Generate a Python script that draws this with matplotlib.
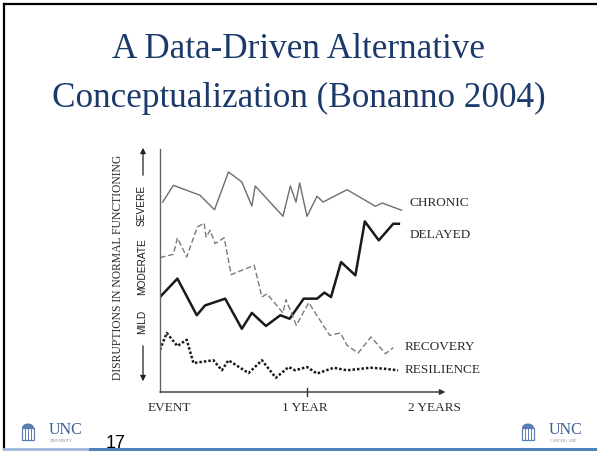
"""
Bonanno (2004) trajectories of disruption after a loss event, redrawn as a slide
"""
import matplotlib
matplotlib.use('Agg')
from matplotlib import pyplot as plt
from matplotlib.patches import Rectangle, Wedge
from matplotlib.lines import Line2D

W, H = 597, 453

# months after the event, and level of disruption (0 = none, 100 = severe)
chronic_x = [0.22, 1.09, 3.27, 4.45, 5.59, 6.68, 7.50, 7.77, 10.04, 10.64, 11.10,
             11.40, 12.00, 12.82, 13.31, 15.27, 17.59, 18.14, 19.72]
chronic_y = [81.4, 88.6, 84.3, 78.1, 94.3, 90.0, 79.7, 88.3, 75.3, 88.3, 81.4,
             89.6, 75.3, 83.9, 81.4, 86.7, 79.6, 81.0, 77.9]

delayed_x = [0.0, 1.42, 3.00, 3.68, 5.32, 6.68, 7.50, 8.65, 9.82, 10.58, 11.73,
             12.82, 13.42, 13.96, 14.78, 15.95, 16.72, 17.86, 19.04, 19.50]
delayed_y = [40.7, 48.6, 32.9, 37.1, 40.0, 27.1, 33.9, 28.3, 32.9, 31.4, 40.0,
             40.0, 42.6, 40.7, 55.7, 50.0, 73.1, 65.0, 72.1, 72.1]

recovery_x = [0.0, 1.09, 1.42, 2.18, 3.05, 3.60, 3.76, 4.09, 4.50, 5.24, 5.81,
              7.69, 8.32, 8.73, 10.04, 10.28, 11.13, 12.14, 13.85, 14.73, 15.27,
              16.17, 17.23, 18.41, 19.04]
recovery_y = [57.6, 59.0, 66.0, 57.9, 70.7, 72.4, 66.4, 69.3, 63.6, 66.1, 50.3,
              54.3, 40.7, 42.1, 33.9, 39.6, 28.6, 38.3, 24.3, 25.3, 20.0,
              16.7, 23.6, 16.4, 19.0]

resilience_x = [0.0, 0.55, 1.42, 2.18, 2.73, 4.36, 5.05, 5.59, 7.23, 8.32, 9.46,
                10.50, 11.04, 12.00, 12.82, 14.18, 15.27, 17.18, 18.27, 19.44]
resilience_y = [18.1, 25.3, 19.7, 22.4, 12.4, 13.6, 9.3, 13.6, 8.1, 13.6, 6.1,
                10.7, 9.3, 10.7, 7.9, 10.4, 9.3, 10.4, 10.0, 9.3]

curve_labels = ['CHRONIC', 'DELAYED', 'RECOVERY', 'RESILIENCE']
time_labels = ['EVENT', '1 YEAR', '2 YEARS']
level_labels = ['MILD', 'MODERATE', 'SEVERE']

TITLE_BLUE = '#1b3a6b'
SERIF = ['Liberation Serif', 'DejaVu Serif']
SANS = ['Liberation Sans', 'DejaVu Sans']


def fx(px):
    return px / W


def fy(py):
    return 1 - py / H


fig = plt.figure(figsize=(W / 100, H / 100), dpi=100)

# slide frame and footer line
fig.add_artist(Line2D([fx(4), fx(4)], [fy(4), fy(449)], color='black', lw=1.6))
fig.add_artist(Line2D([fx(4), fx(597)], [fy(4), fy(4)], color='black', lw=1.6))
fig.add_artist(Line2D([fx(4), fx(90)], [fy(449), fy(449)], color='#9db7dc', lw=2))
fig.add_artist(Line2D([fx(90), fx(597)], [fy(449), fy(449)], color='#4f81bd', lw=2.2))

fig.text(0.5, fy(50), 'A Data-Driven Alternative', ha='center', va='center',
         fontsize=25.3, color=TITLE_BLUE, family=SERIF)
fig.text(0.5, fy(98), 'Conceptualization (Bonanno 2004)', ha='center', va='center',
         fontsize=25.3, color=TITLE_BLUE, family=SERIF)

# chart area: x in months (12.25 px each), y in disruption units (2.333 px each)
ax = fig.add_axes([fx(160), fy(392), 24 * 12.25 / W, 105 * (7 / 3) / H])
ax.set_xlim(0, 24)
ax.set_ylim(0, 105)
ax.axis('off')

ax.plot(chronic_x, chronic_y, color='#6e6e6e', lw=1.0)
ax.plot(delayed_x, delayed_y, color='#1a1a1a', lw=1.8)
ax.plot(recovery_x, recovery_y, color='#7a7a7a', lw=1.0, ls=(0, (4, 2)))
ax.plot(resilience_x, resilience_y, color='#1a1a1a', lw=1.8, ls=(0, (1, 0.8)))

label_pos = [(20.4, 81.0), (20.4, 67.3), (20.0, 19.3), (20.0, 9.4)]
for name, (lx, ly) in zip(curve_labels, label_pos):
    ax.text(lx, ly, name, ha='left', va='center', fontsize=9.5,
            color='#2a2a2a', family=SERIF)

# axes
ax.plot([0, 0], [0, 104], color='#666666', lw=1.0, clip_on=False)
ax.annotate('', xy=(23.3, 0), xytext=(0, 0),
            arrowprops=dict(arrowstyle='-|>', color='#333333', lw=1.0,
                            mutation_scale=8, shrinkA=0, shrinkB=0),
            annotation_clip=False)
ax.plot([12, 12], [-1.7, 1.7], color='#333333', lw=1.0, clip_on=False)

for name, px in zip(time_labels, [169, 305, 434]):
    fig.text(fx(px), fy(408), name, ha='center', va='center', fontsize=9.5,
             color='#2a2a2a', family=SERIF)

fig.text(fx(118), fy(267), 'DISRUPTIONS IN NORMAL FUNCTIONING', rotation=90,
         ha='center', va='center', fontsize=8.4, color='#2a2a2a', family=SERIF)
for name, py in zip(level_labels, [322, 267, 205]):
    fig.text(fx(142), fy(py), name, rotation=90, ha='center', va='center',
             fontsize=7.3, color='#1a1a1a', family=SANS)

fig.add_artist(matplotlib.patches.FancyArrowPatch(
    (fx(143), fy(178)), (fx(143), fy(145)), transform=fig.transFigure,
    arrowstyle='-|>', mutation_scale=8, color='#222222', lw=0.9))
fig.add_artist(matplotlib.patches.FancyArrowPatch(
    (fx(143), fy(343)), (fx(143), fy(384)), transform=fig.transFigure,
    arrowstyle='-|>', mutation_scale=8, color='#222222', lw=0.9))

# UNC logos (Old Well icon + wordmark)
for x0, sub in [(23, 'UNIVERSITY'), (523, 'CANCER CARE')]:
    icon = '#5a7db3'
    fig.add_artist(Wedge((fx(x0 + 5), fy(428)), fx(6), 0, 180,
                         transform=fig.transFigure, color=icon, lw=0))
    fig.add_artist(Rectangle((fx(x0 - 1), fy(440)), fx(12), 12 / H,
                             transform=fig.transFigure, fill=False,
                             ec=icon, lw=0.9))
    for cx in [x0 + 2, x0 + 5, x0 + 8]:
        fig.add_artist(Line2D([fx(cx), fx(cx)], [fy(429), fy(439)],
                              color=icon, lw=0.7))
    fig.text(fx(x0 + 26), fy(430), 'UNC', ha='left', va='center', fontsize=11.5,
             color='#3d5f99', family=SERIF)
    fig.text(fx(x0 + 27), fy(441), sub, ha='left', va='center', fontsize=2.8,
             color='#888888', family=SERIF)

fig.text(fx(106), fy(444), '17', ha='left', va='center', fontsize=13,
         color='black', family=SANS)

fig.savefig('out.png', dpi=100)
